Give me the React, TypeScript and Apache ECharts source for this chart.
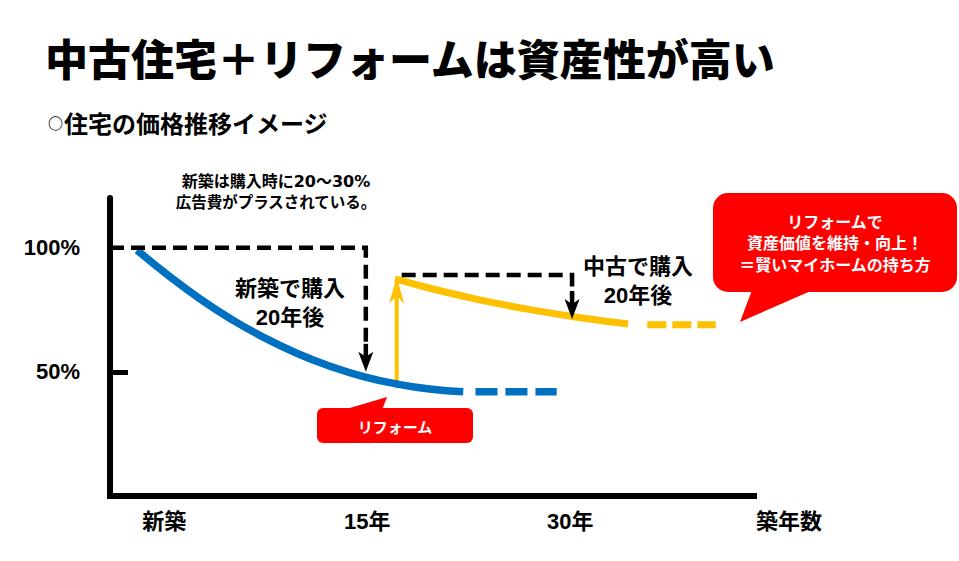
import React, { useEffect, useRef } from 'react';
import * as echarts from 'echarts';

// ---- data ----
const xTickValues = [0, 15, 30];
const xTickLabels = ['新築', '15年', '30年'];
const yTickValues = [50, 100];
const yTickLabels = ['50%', '100%'];
const yTickMarks = [50];

// 新築で購入 (blue)
const newBuildX = [-2, 0.5, 2.7, 4.9, 7.1, 9.8, 12.3, 14.8, 17.2, 19.6, 22.1];
const newBuildY = [99, 88.0, 79.2, 71.4, 64.6, 57.5, 52.2, 48.0, 45.1, 43.1, 42.0];
const newBuildTailX = [23.0, 29.0];
const newBuildTailY = [42.0, 42.0];

// 中古＋リフォーム (yellow)
const usedX = [17.06, 19.64, 22.38, 24.82, 27.26, 30.14, 32.21, 34.28];
const usedY = [87.4, 83.66, 80.1, 77.3, 74.86, 72.3, 70.7, 69.3];
const usedTailX = [35.7, 40.75];
const usedTailY = [69.0, 69.0];

// reform jump arrow: [x, from, to]
const reformArrow = [17.18, 45.3, 88.3];

// dashed brackets: [xStart, xCorner, yTop, yTip]
const bracketNew = [-4, 14.9, 100, 50];
const bracketUsed = [17.55, 30.14, 89.0, 71.3];

const zip = (xs: number[], ys: number[]) => xs.map((x, i) => [x, ys[i]]);

const MIX = '"Liberation Sans", "Noto Sans CJK JP", sans-serif';
const WIDE = '"DejaVu Sans", "Noto Sans CJK JP", sans-serif';
const CJK = '"Noto Sans CJK JP", sans-serif';
const BLUE = '#0070C0';
const YELLOW = '#FFC000';
const RED = '#FF0000';

const bracketRender = (params: any, api: any) => {
  const xs = api.value(0), xc = api.value(1), yt = api.value(2), ytip = api.value(3);
  const a = api.coord([xs, yt]);
  const c = api.coord([xc, yt]);
  const t = api.coord([xc, ytip]);
  const headLen = 20, headW = 15, notch = 5;
  const baseY = t[1] - headLen;
  return {
    type: 'group',
    children: [
      {
        type: 'polyline',
        shape: { points: [a, c, [c[0], baseY - 4]] },
        style: { stroke: '#000', lineWidth: 4.5, lineDash: [14, 7], fill: 'none' },
      },
      {
        type: 'line',
        shape: { x1: c[0], y1: baseY - 8, x2: c[0], y2: baseY + notch + 1 },
        style: { stroke: '#000', lineWidth: 4.5 },
      },
      {
        type: 'polygon',
        shape: {
          points: [
            [t[0], t[1]],
            [t[0] - headW / 2, baseY],
            [t[0], baseY + notch],
            [t[0] + headW / 2, baseY],
          ],
        },
        style: { fill: '#000' },
      },
    ],
  };
};

const arrowRender = (params: any, api: any) => {
  const x = api.value(0), y0 = api.value(1), y1 = api.value(2);
  const p0 = api.coord([x, y0]);
  const p1 = api.coord([x, y1]);
  const dir = p1[1] < p0[1] ? -1 : 1;
  const headLen = 27, headW = 15, notch = 8;
  const baseY = p1[1] - dir * headLen;
  const notchY = baseY + dir * notch;
  return {
    type: 'group',
    children: [
      {
        type: 'line',
        shape: { x1: p0[0], y1: p0[1], x2: p0[0], y2: notchY },
        style: { stroke: YELLOW, lineWidth: 4 },
      },
      {
        type: 'polygon',
        shape: {
          points: [
            [p1[0], p1[1]],
            [p1[0] - headW / 2, baseY],
            [p1[0], notchY],
            [p1[0] + headW / 2, baseY],
          ],
        },
        style: { fill: YELLOW },
      },
    ],
  };
};

export default function App() {
  const ref = useRef<HTMLDivElement>(null);
  useEffect(() => {
    if (!ref.current) return;
    const chart = echarts.init(ref.current, null, { renderer: 'svg' });
    const option: any = {
      animation: false,
      backgroundColor: '#fff',
      grid: { left: 110, right: 205, top: 198, bottom: 65, containLabel: false },
      xAxis: {
        type: 'value',
        min: -4,
        max: 43.58,
        splitLine: { show: false },
        axisLine: { show: true, onZero: false, lineStyle: { color: '#000', width: 6, cap: 'square' } },
        axisTick: { show: false },
        axisLabel: {
          customValues: xTickValues,
          formatter: (v: number) => xTickLabels[xTickValues.indexOf(v)] ?? '',
          margin: 14,
          color: '#000',
          fontSize: 22,
          fontWeight: 'bold',
          fontFamily: MIX,
        },
        name: '築年数',
        nameLocation: 'end',
        nameGap: 2,
        nameTextStyle: {
          color: '#000',
          fontSize: 22,
          fontWeight: 'bold',
          fontFamily: MIX,
          align: 'left',
          verticalAlign: 'top',
          lineHeight: 22,
          padding: [14, 0, 0, 0],
        },
      },
      yAxis: {
        type: 'value',
        min: 0,
        max: 120,
        splitLine: { show: false },
        axisLine: { show: true, onZero: false, lineStyle: { color: '#000', width: 6 } },
        axisTick: {
          show: true,
          customValues: yTickMarks,
          inside: true,
          length: 18,
          lineStyle: { color: '#000', width: 5 },
        },
        axisLabel: {
          customValues: yTickValues,
          formatter: (v: number) => yTickLabels[yTickValues.indexOf(v)] ?? '',
          margin: 30,
          color: '#000',
          fontSize: 22,
          fontWeight: 'bold',
          fontFamily: MIX,
        },
      },
      series: [
        {
          type: 'custom',
          name: 'reformArrow',
          renderItem: arrowRender,
          encode: { x: 0, y: [1, 2] },
          data: [reformArrow],
          z: 2,
        },
        {
          type: 'line',
          name: '新築',
          data: zip(newBuildX, newBuildY),
          smooth: 0.5,
          showSymbol: false,
          symbol: 'none',
          lineStyle: { color: BLUE, width: 7.5 },
          z: 3,
        },
        {
          type: 'line',
          name: '新築tail',
          data: zip(newBuildTailX, newBuildTailY),
          showSymbol: false,
          symbol: 'none',
          lineStyle: { color: BLUE, width: 7.5, type: [22, 8] },
          z: 3,
        },
        {
          type: 'line',
          name: '中古',
          data: zip(usedX, usedY),
          smooth: 0.5,
          showSymbol: false,
          symbol: 'none',
          lineStyle: { color: YELLOW, width: 7 },
          z: 3,
        },
        {
          type: 'line',
          name: '中古tail',
          data: zip(usedTailX, usedTailY),
          showSymbol: false,
          symbol: 'none',
          lineStyle: { color: YELLOW, width: 7, type: [19, 6] },
          z: 3,
        },
        {
          type: 'custom',
          name: 'brackets',
          renderItem: bracketRender,
          encode: { x: [0, 1], y: [2, 3] },
          data: [bracketNew, bracketUsed],
          z: 4,
        },
      ],
      graphic: [
        {
          type: 'text',
          x: 45,
          y: 57,
          style: {
            text: '中古住宅＋リフォームは資産性が高い',
            fill: '#000',
            font: `900 43px ${CJK}`,
            verticalAlign: 'middle',
            align: 'left',
          },
        },
        {
          type: 'text',
          x: 48,
          y: 122,
          style: {
            text: '{c|○}{t|住宅の価格推移イメージ}',
            verticalAlign: 'middle',
            align: 'left',
            rich: {
              c: { fontSize: 15, fontWeight: 'bold', fontFamily: CJK, fill: '#000', padding: [0, 1, 0, 0] },
              t: { fontSize: 24, fontWeight: 'bold', fontFamily: CJK, fill: '#000' },
            },
          },
        },
        {
          type: 'text',
          x: 276,
          y: 181,
          style: {
            text: '新築は購入時に20～30%',
            fill: '#000',
            font: `bold 16px ${WIDE}`,
            verticalAlign: 'middle',
            align: 'center',
          },
        },
        {
          type: 'text',
          x: 276,
          y: 202,
          style: {
            text: '広告費がプラスされている。',
            fill: '#000',
            font: `bold 15.5px ${MIX}`,
            verticalAlign: 'middle',
            align: 'center',
          },
        },
        {
          type: 'text',
          x: 290,
          y: 302.5,
          style: {
            text: '新築で購入\n20年後',
            fill: '#000',
            font: `bold 22px ${MIX}`,
            lineHeight: 29,
            verticalAlign: 'middle',
            align: 'center',
          },
        },
        {
          type: 'text',
          x: 638,
          y: 280.5,
          style: {
            text: '中古で購入\n20年後',
            fill: '#000',
            font: `bold 22px ${MIX}`,
            lineHeight: 29,
            verticalAlign: 'middle',
            align: 'center',
          },
        },
        // left callout
        {
          type: 'rect',
          shape: { x: 317, y: 408, width: 156, height: 35, r: 6 },
          style: { fill: RED },
        },
        {
          type: 'polygon',
          shape: { points: [[343, 410], [387, 397], [382, 410]] },
          style: { fill: RED },
        },
        {
          type: 'text',
          x: 395,
          y: 427,
          style: {
            text: 'リフォーム',
            fill: '#fff',
            font: `bold 15px ${MIX}`,
            verticalAlign: 'middle',
            align: 'center',
          },
        },
        // right callout
        {
          type: 'rect',
          shape: { x: 713, y: 193, width: 244, height: 99, r: 15 },
          style: { fill: RED },
        },
        {
          type: 'polygon',
          shape: { points: [[752, 290], [740, 322], [813, 290]] },
          style: { fill: RED },
        },
        {
          type: 'text',
          x: 835,
          y: 243.5,
          style: {
            text: 'リフォームで\n資産価値を維持・向上！\n＝賢いマイホームの持ち方',
            fill: '#fff',
            font: `bold 16px ${MIX}`,
            lineHeight: 21.5,
            verticalAlign: 'middle',
            align: 'center',
          },
        },
      ],
    };
    chart.setOption(option);
    return () => chart.dispose();
  }, []);
  return (
    <div
      ref={ref}
      style={{ position: 'fixed', left: 0, top: 0, width: 959, height: 561, background: '#fff' }}
    />
  );
}
